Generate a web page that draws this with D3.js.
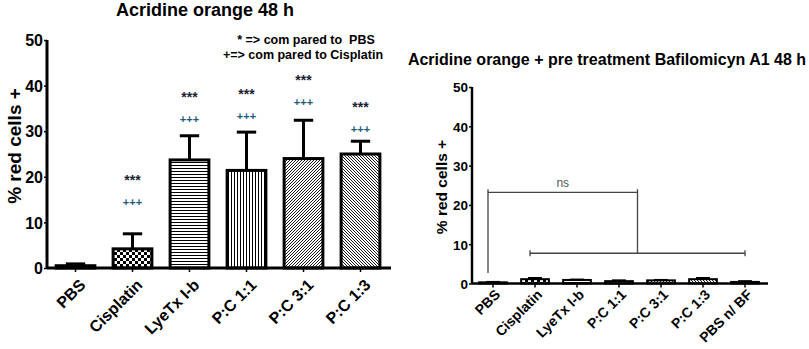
<!DOCTYPE html>
<html>
<head>
<meta charset="utf-8">
<script src="https://cdn.jsdelivr.net/npm/d3@7/dist/d3.min.js"></script>
<style>
  body { margin: 0; background: #fff; }
  svg text { font-family: "Liberation Sans", Arial, sans-serif; font-weight: bold; white-space: pre; }
</style>
</head>
<body>
<div id="chart"></div>
<script>
// left panel data
const leftCats = ["PBS", "Cisplatin", "LyeTx I-b", "P:C 1:1", "P:C 3:1", "P:C 1:3"];
const leftMeans = [0.5, 4.2, 23.7, 21.4, 24.0, 25.0];
const leftErrs = [0.4, 3.3, 5.3, 8.4, 8.4, 2.8];
const leftStars = ["", "***", "***", "***", "***", "***"];
const leftPlus = ["", "+++", "+++", "+++", "+++", "+++"];
const leftMarkY = [0, 19.5, 37.8, 38.3, 41.5, 35.5]; // value where *** sits
const leftPatterns = ["solid", "checker", "hlines", "vlines", "diagR", "diagL"];

// right panel data
const rightCats = ["PBS", "Cisplatin", "LyeTx I-b", "P:C 1:1", "P:C 3:1", "P:C 1:3", "PBS n/ BF"];
const rightMeans = [0.3, 1.1, 0.9, 0.6, 0.8, 1.1, 0.4];
const rightErrs = [0.1, 0.3, 0.1, 0.2, 0.1, 0.3, 0.2];
const rightPatterns = ["solid", "checker", "hlines", "vlines", "diagR", "diagL", "solid"];

const yTicks = [0, 10, 20, 30, 40, 50];

const W = 809, H = 349;
const svg = d3.select("#chart").append("svg").attr("width", W).attr("height", H);
const defs = svg.append("defs");

// fill patterns
function addPattern(id, size, draw) {
  const p = defs.append("pattern").attr("id", id)
    .attr("patternUnits", "userSpaceOnUse").attr("width", size).attr("height", size);
  p.append("rect").attr("width", size).attr("height", size).attr("fill", "#fff");
  draw(p, size);
}
addPattern("checker", 6, (p) => {
  p.append("rect").attr("width", 3).attr("height", 3).attr("fill", "#000");
  p.append("rect").attr("x", 3).attr("y", 3).attr("width", 3).attr("height", 3).attr("fill", "#000");
});
addPattern("hlines", 3, (p) => {
  p.append("rect").attr("width", 3).attr("height", 1).attr("fill", "#000");
});
addPattern("vlines", 3, (p) => {
  p.append("rect").attr("width", 1).attr("height", 3).attr("fill", "#000");
});
addPattern("diagR", 3, (p) => {
  p.append("path").attr("d", "M-1,1 L1,-1 M0,3 L3,0 M2,4 L4,2").attr("stroke", "#000").attr("stroke-width", 0.9);
});
addPattern("diagL", 3, (p) => {
  p.append("path").attr("d", "M-1,2 L1,4 M0,0 L3,3 M2,-1 L4,1").attr("stroke", "#000").attr("stroke-width", 0.9);
});
function fillFor(name) { return name === "solid" ? "#000" : `url(#${name})`; }

function panel(opt) {
  const g = svg.append("g");
  const x = d3.scaleBand().domain(opt.cats).range([opt.x0, opt.x1]).paddingInner(opt.pad).paddingOuter(opt.pad / 2);
  const y = d3.scaleLinear().domain([0, 50]).range([opt.y0, opt.yTop]);

  // bars
  g.selectAll(".bar").data(opt.cats).join("rect")
    .attr("x", d => x(d))
    .attr("y", (d, i) => y(opt.means[i]))
    .attr("width", x.bandwidth())
    .attr("height", (d, i) => opt.y0 - y(opt.means[i]))
    .attr("fill", (d, i) => fillFor(opt.patterns[i]))
    .attr("stroke", "#000")
    .attr("stroke-width", opt.barStroke);

  // error bars (upper only)
  const cap = x.bandwidth() * 0.5;
  opt.cats.forEach((c, i) => {
    const cx = x(c) + x.bandwidth() / 2;
    const top = y(opt.means[i] + opt.errs[i]);
    g.append("line").attr("x1", cx).attr("x2", cx)
      .attr("y1", y(opt.means[i])).attr("y2", top)
      .attr("stroke", "#000").attr("stroke-width", opt.barStroke);
    g.append("line").attr("x1", cx - cap / 2).attr("x2", cx + cap / 2)
      .attr("y1", top).attr("y2", top)
      .attr("stroke", "#000").attr("stroke-width", opt.barStroke);
  });

  // y axis
  const ya = g.append("g").attr("transform", `translate(${opt.x0},0)`)
    .call(d3.axisLeft(y).tickValues(yTicks).tickSize(3).tickPadding(1));
  ya.select(".domain").attr("stroke-width", opt.axisStroke).attr("d", `M0,${opt.y0}V${opt.yTop}`);
  ya.selectAll(".tick line").attr("stroke-width", 1.5);
  ya.selectAll("text").style("font-size", opt.tickFont + "px").attr("fill", "#000").attr("dy", "0.36em");

  // x axis
  const xa = g.append("g").attr("transform", `translate(0,${opt.y0})`)
    .call(d3.axisBottom(x).tickSize(4).tickSizeOuter(0));
  xa.select(".domain").attr("stroke-width", opt.axisStroke).attr("d", `M${opt.x0},0H${opt.xEnd}`);
  xa.selectAll(".tick line").attr("stroke-width", 1.5);
  xa.selectAll("text")
    .style("font-size", opt.catFont + "px")
    .attr("fill", "#000")
    .attr("text-anchor", "end")
    .attr("dy", 0)
    .attr("transform", `translate(${opt.catDx},${opt.catDy}) rotate(-45)`)
    .attr("y", 0).attr("x", 0);

  // y label
  g.append("text")
    .attr("transform", `translate(${opt.ylabX},${opt.ylabY}) rotate(-90)`)
    .attr("text-anchor", "middle")
    .style("font-size", opt.ylabFont + "px")
    .text("% red cells +");

  // title
  g.append("text").attr("x", opt.titleX).attr("y", opt.titleY)
    .attr("text-anchor", "middle")
    .style("font-size", opt.titleFont + "px")
    .text(opt.title);

  return { g, x, y };
}

// left panel
const L = panel({
  cats: leftCats, means: leftMeans, errs: leftErrs, patterns: leftPatterns,
  x0: 47, x1: 389, xEnd: 391, pad: 0.32, y0: 268, yTop: 40,
  barStroke: 3, axisStroke: 3, tickFont: 16, catFont: 16, catDx: 11, catDy: 18,
  ylabX: 21, ylabY: 146, ylabFont: 19,
  titleX: 205, titleY: 16, titleFont: 18, title: "Acridine orange 48 h"
});

// significance marks
leftCats.forEach((c, i) => {
  if (!leftStars[i]) return;
  const cx = L.x(c) + L.x.bandwidth() / 2;
  L.g.append("text").attr("x", cx).attr("y", L.y(leftMarkY[i]) + 6)
    .attr("text-anchor", "middle").style("font-size", "14px").attr("fill", "#1c2333")
    .text(leftStars[i]);
  L.g.append("text").attr("x", cx).attr("y", L.y(leftMarkY[i] - 4.8) + 5)
    .attr("text-anchor", "middle").style("font-size", "11px").attr("fill", "#1d5a78")
    .text(leftPlus[i]);
});

L.g.append("text").attr("x", 306).attr("y", 44).attr("text-anchor", "middle")
  .style("font-size", "12.5px").text("* => com pared to  PBS");
L.g.append("text").attr("x", 303).attr("y", 59).attr("text-anchor", "middle")
  .style("font-size", "12.5px").text("+=> com pared to Cisplatin");

// right panel
const R = panel({
  cats: rightCats, means: rightMeans, errs: rightErrs, patterns: rightPatterns,
  x0: 472, x1: 766, xEnd: 768, pad: 0.34, y0: 283.5, yTop: 87,
  barStroke: 2, axisStroke: 2.5, tickFont: 13.5, catFont: 14, catDx: 8, catDy: 12,
  ylabX: 447, ylabY: 187, ylabFont: 15.5,
  titleX: 607, titleY: 65, titleFont: 16, title: "Acridine orange + pre treatment Bafilomicyn A1 48 h"
});

// brackets
const bx = (c) => R.x(c) + R.x.bandwidth() / 2;
const nsL = bx("PBS") - 5;
const lowL = bx("Cisplatin") - 5, lowR = bx("PBS n/ BF");
const lowMid = (lowL + lowR) / 2;
const yNs = R.y(23.2), yLow = R.y(7.7), yLeg = R.y(2.7);
const br = R.g.append("g").attr("stroke", "#444").attr("stroke-width", 1.3).attr("fill", "none");
br.append("path").attr("d", `M${nsL},${yLeg}V${yNs}H${lowMid}V${yLow}`);
br.append("path").attr("d", `M${nsL},${yNs - 3}V${yNs}M${lowMid},${yNs - 3}V${yNs}`);
br.append("path").attr("d", `M${lowL},${yLow}H${lowR}M${lowL},${yLow - 3}V${yLow + 3}M${lowR},${yLow - 3}V${yLow + 3}`);
R.g.append("text").attr("x", (nsL + lowMid) / 2).attr("y", yNs - 5)
  .attr("text-anchor", "middle").style("font-size", "12px").style("font-weight", "normal")
  .attr("fill", "#555").text("ns");
</script>
</body>
</html>
